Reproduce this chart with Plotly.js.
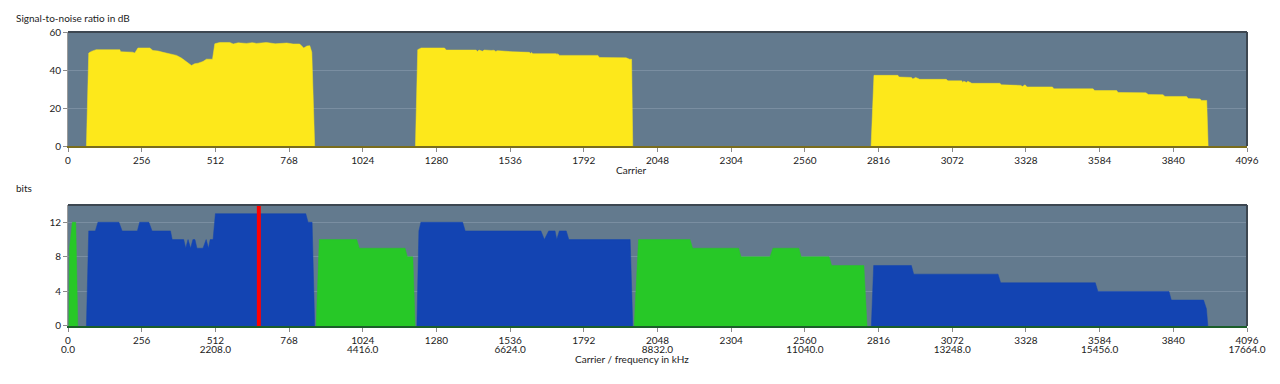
<!DOCTYPE html>
<html>
<head>
<meta charset="utf-8">
<script src="https://cdn.plot.ly/plotly-3.0.1.min.js"></script>
<style>html,body{margin:0;padding:0;background:#fff;}#chart{width:1280px;height:384px;}</style>
</head>
<body>
<div id="chart"></div>
<script>
// ---------- Tick labels ----------
const carrierTicks = [0,256,512,768,1024,1280,1536,1792,2048,2304,2560,2816,3072,3328,3584,3840,4096];
const carrierLabels = ["0","256","512","768","1024","1280","1536","1792","2048","2304","2560","2816","3072","3328","3584","3840","4096"];
const freqLabels = ["0.0","","2208.0","","4416.0","","6624.0","","8832.0","","11040.0","","13248.0","","15456.0","","17664.0"];
const snrTicks = [0,20,40,60];
const bitsTicks = [0,4,8,12];

// ---------- SNR (dB) per carrier, three bands ----------
const snr1Carrier = [64,72,81,98,180,183,224,232,243,284,295,313,330,353,377,394,406,417,429,440,452,469,481,502,510,527,562,574,591,620,640,655,689,720,760,782,805,812,819,830,840,847,857];
const snr1Db      = [0,48.9,49.8,50.7,50.7,49.6,49.4,48.9,51.6,51.6,50.3,50.0,49.3,48.6,47.7,46.3,45.0,43.6,42.4,43.3,43.6,44.5,45.7,45.7,53.8,54.5,54.5,53.7,54.3,54.0,54.4,54.0,54.5,53.8,54.2,53.7,53.7,52.6,51.6,52.6,52.8,49.3,0];

const snr2Carrier = [1207,1215,1227,1308,1314,1418,1422,1428,1440,1446,1470,1480,1486,1492,1545,1603,1606,1610,1615,1696,1699,1702,1707,1841,1846,1939,1951,1958,1962];
const snr2Db      = [0,50.7,51.6,51.6,50.5,50.5,49.8,50.5,49.9,50.5,50.3,50.4,49.8,50.2,49.6,49.3,48.7,49.2,48.6,48.6,48.2,48.6,47.7,47.7,46.6,46.4,45.7,45.7,0];

const snr3Carrier = [2790,2800,2883,2887,2930,2935,2945,2959,3051,3057,3105,3108,3112,3122,3126,3140,3237,3243,3310,3316,3325,3332,3420,3425,3561,3567,3643,3648,3745,3753,3804,3811,3886,3892,3933,3938,3956,3961];
const snr3Db      = [0,37.2,37.2,36.3,36.1,35.3,36.1,35.1,35.1,34.3,34.3,33.4,34.1,33.5,34.1,33.0,33.0,32.2,31.9,31.3,32.2,31.1,31.1,30.1,30.1,29.2,29.2,28.2,28.0,27.1,27.0,26.1,26.1,25.0,24.8,24.0,24.0,0];

// ---------- Bit loading per carrier ----------
// upstream bands (green)
const us0Carrier = [3,5,15,27,34];
const us0Bits    = [0,9,12,12,0];
const us1Carrier = [862,873,1003,1012,1171,1179,1198,1206];
const us1Bits    = [0,10,10,9,9,8,8,0];
const us2Carrier = [1967,1982,2161,2170,2330,2338,2439,2449,2539,2547,2644,2653,2765,2776];
const us2Bits    = [0,10,10,9,9,8,8,9,9,8,8,7,7,0];
// downstream bands (blue)
const ds1Carrier = [64,72,95,104,177,188,241,249,281,292,356,362,402,409,417,426,434,441,448,469,480,488,494,504,512,826,834,848,857];
const ds1Bits    = [0,11,11,12,12,11,11,12,12,11,11,10,10,9,10,9,10,10,9,9,10,9,10,10,13,13,12,12,0];
const ds2Carrier = [1212,1219,1226,1371,1380,1643,1655,1670,1692,1698,1707,1731,1740,1953,1962];
const ds2Bits    = [0,11,12,12,11,11,10,11,11,10,11,11,10,10,0];
const ds3Carrier = [2791,2799,2930,2938,3231,3240,3569,3578,3825,3833,3945,3955,3960];
const ds3Bits    = [0,7,7,6,6,5,5,4,4,3,3,2,0];

// marker
const markerCarrier = [663,663];
const markerBits = [0,14];

const YELLOW = '#fde81b', BLUE = '#1344b2', GREEN = '#27c827';
const FONT = 'Lato, "Noto Sans", sans-serif';
const FS = 10;

function area(x, y, color, xa, ya) {
  return {x: x, y: y, type: 'scatter', mode: 'lines', fill: 'tozeroy',
          fillcolor: color, line: {color: color, width: 0.5}, xaxis: xa, yaxis: ya,
          hoverinfo: 'x+y', showlegend: false};
}

const traces = [
  area(snr1Carrier, snr1Db, YELLOW, 'x', 'y'),
  area(snr2Carrier, snr2Db, YELLOW, 'x', 'y'),
  area(snr3Carrier, snr3Db, YELLOW, 'x', 'y'),
  area(us0Carrier, us0Bits, GREEN, 'x2', 'y2'),
  area(us1Carrier, us1Bits, GREEN, 'x2', 'y2'),
  area(us2Carrier, us2Bits, GREEN, 'x2', 'y2'),
  area(ds1Carrier, ds1Bits, BLUE, 'x2', 'y2'),
  area(ds2Carrier, ds2Bits, BLUE, 'x2', 'y2'),
  area(ds3Carrier, ds3Bits, BLUE, 'x2', 'y2'),
  {x: markerCarrier, y: markerBits, type: 'scatter', mode: 'lines',
   line: {color: '#ff0000', width: 4}, xaxis: 'x2', yaxis: 'y2', showlegend: false},
  // invisible trace to activate frequency label axis
  {x: [0, 4096], y: [0, 0], type: 'scatter', mode: 'lines', line: {width: 0}, opacity: 0,
   xaxis: 'x3', yaxis: 'y2', showlegend: false, hoverinfo: 'skip'}
];

const xBase = {range: [0, 4096], tickvals: carrierTicks, ticks: 'outside', ticklen: 4,
  tickcolor: '#8a8a8a', showgrid: false, zeroline: false, showline: true, linewidth: 1.5,
  tickfont: {family: FONT, size: FS, color: '#222'}, fixedrange: true};
const yBase = {ticks: 'outside', ticklen: 4, tickcolor: '#8a8a8a', showgrid: true,
  gridcolor: '#7a8ea1', gridwidth: 1, zeroline: false, showline: true, linecolor: '#9a9a9a',
  tickfont: {family: FONT, size: FS, color: '#222'}, fixedrange: true};

const layout = {
  width: 1280, height: 384,
  margin: {l: 68, r: 33, t: 32, b: 58},
  paper_bgcolor: '#ffffff', plot_bgcolor: '#637a8e',
  font: {family: FONT, size: FS, color: '#222'},
  showlegend: false,
  xaxis: Object.assign({}, xBase, {anchor: 'y', ticktext: carrierLabels, linecolor: '#7a6d1c'}),
  yaxis: Object.assign({}, yBase, {domain: [0.612, 1], range: [0, 60], tickvals: snrTicks}),
  xaxis2: Object.assign({}, xBase, {anchor: 'y2', ticktext: carrierLabels, linecolor: '#1b5e2a'}),
  xaxis3: {overlaying: 'x2', anchor: 'y2', side: 'bottom', range: [0, 4096], tickvals: carrierTicks,
    ticktext: freqLabels, ticks: 'outside', ticklen: 4, tickcolor: 'rgba(0,0,0,0)', showgrid: false,
    zeroline: false, showline: false, ticklabelstandoff: 10,
    tickfont: {family: FONT, size: FS, color: '#222'}, fixedrange: true},
  yaxis2: Object.assign({}, yBase, {domain: [0, 0.4116], range: [0, 14], tickvals: bitsTicks}),
  shapes: [
    {type: 'line', xref: 'x domain', yref: 'y domain', x0: 0, x1: 1, y0: 1, y1: 1, line: {color: '#3d4751', width: 2}},
    {type: 'line', xref: 'x domain', yref: 'y domain', x0: 1, x1: 1, y0: 0, y1: 1, line: {color: '#3d4751', width: 2}},
    {type: 'line', xref: 'x2 domain', yref: 'y2 domain', x0: 0, x1: 1, y0: 1, y1: 1, line: {color: '#3d4751', width: 2}},
    {type: 'line', xref: 'x2 domain', yref: 'y2 domain', x0: 1, x1: 1, y0: 0, y1: 1, line: {color: '#3d4751', width: 2}}
  ],
  annotations: [
    {text: 'Signal-to-noise ratio in dB', xref: 'paper', yref: 'paper', x: -0.0455, y: 1.047,
     xanchor: 'left', yanchor: 'middle', showarrow: false, font: {family: FONT, size: FS, color: '#222'}},
    {text: 'bits', xref: 'paper', yref: 'paper', x: -0.0455, y: 0.4677,
     xanchor: 'left', yanchor: 'middle', showarrow: false, font: {family: FONT, size: FS, color: '#222'}},
    {text: 'Carrier', xref: 'paper', yref: 'paper', x: 0.478, y: 0.5306,
     xanchor: 'center', yanchor: 'middle', showarrow: false, font: {family: FONT, size: FS, color: '#222'}},
    {text: 'Carrier / frequency in kHz', xref: 'paper', yref: 'paper', x: 0.478, y: -0.1139,
     xanchor: 'center', yanchor: 'middle', showarrow: false, font: {family: FONT, size: FS, color: '#222'}}
  ]
};

Plotly.newPlot('chart', traces, layout, {displayModeBar: false, staticPlot: true});
</script>
</body>
</html>
